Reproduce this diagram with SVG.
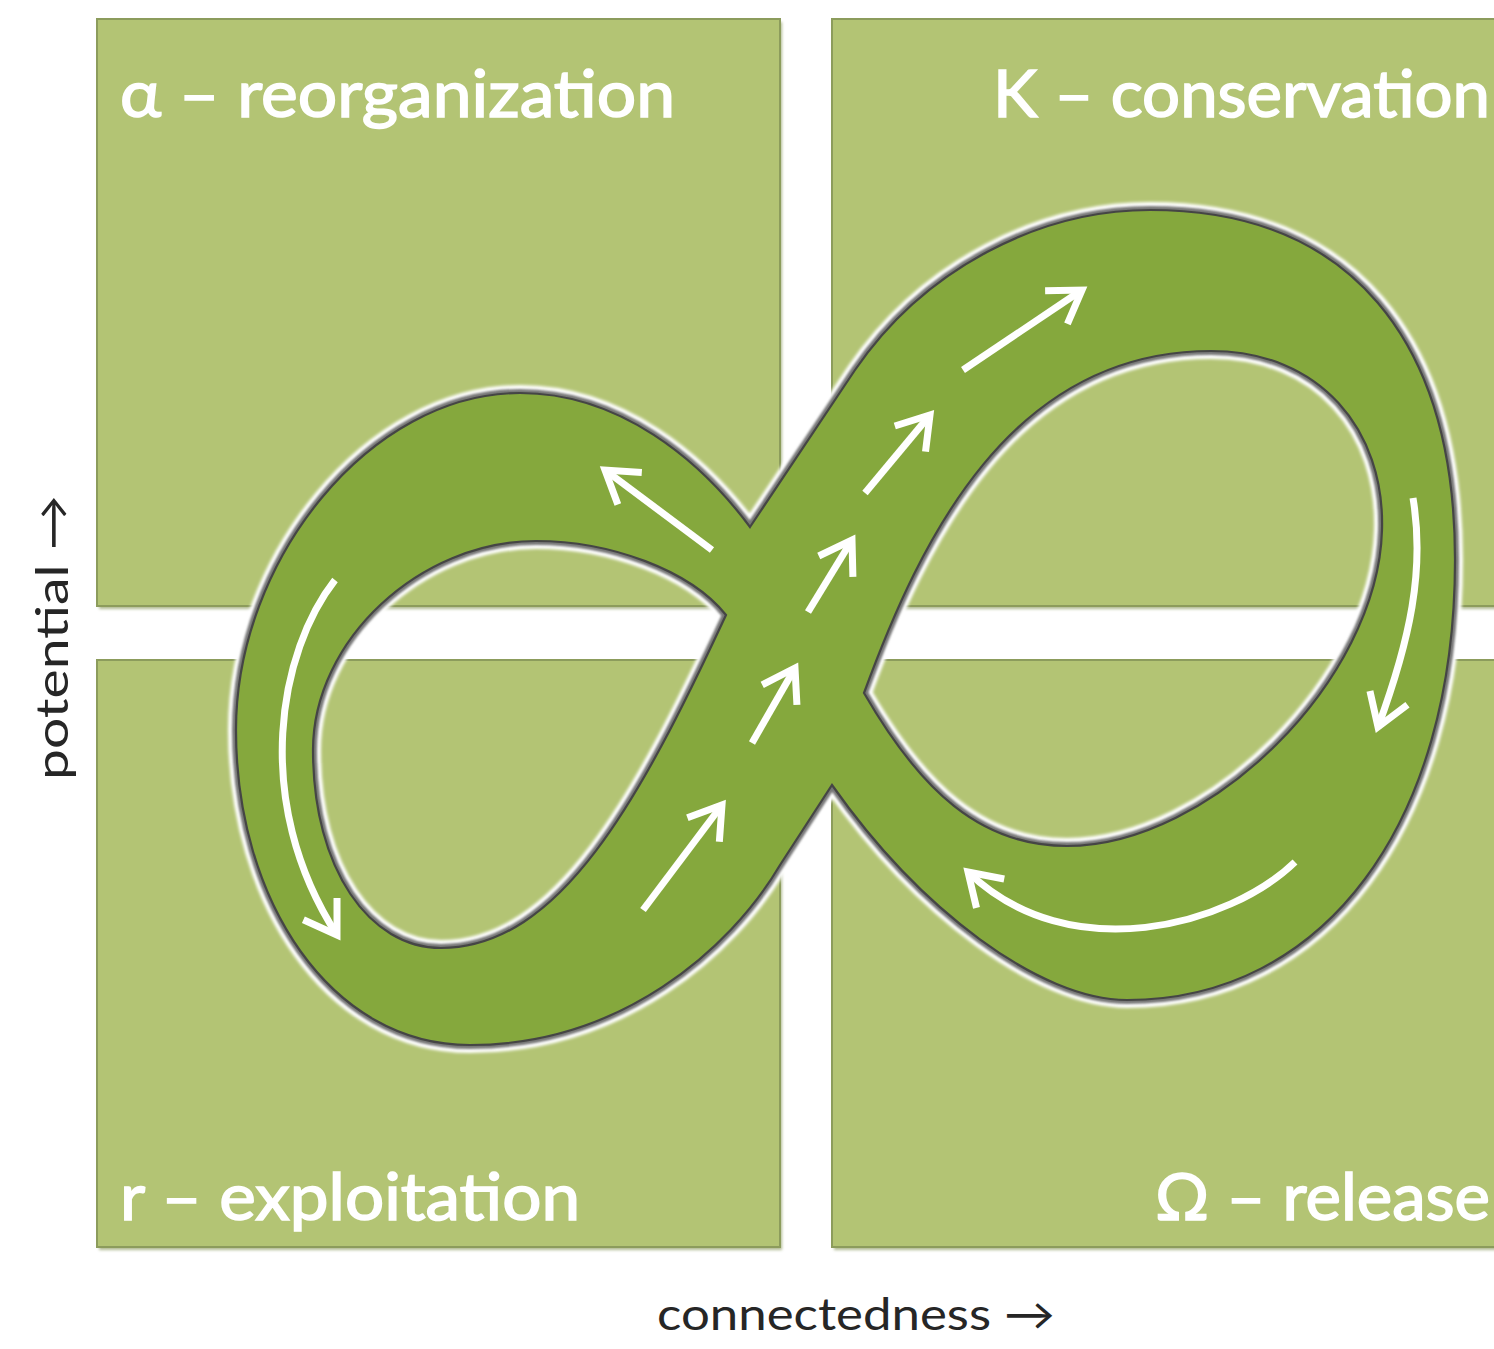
<svg xmlns="http://www.w3.org/2000/svg" width="1494" height="1349" viewBox="0 0 1494 1349">
<style>
.quad{fill:#b3c474;stroke:#8c9c5c;stroke-width:2}
.shadow{fill:#8f9d63;opacity:0.7}
.head{font-family:Lato,"Open Sans","Noto Sans",sans-serif;font-size:66px;fill:#fff;stroke:#fff;stroke-width:1.6}
.axis{font-family:Lato,"Open Sans","Noto Sans",sans-serif;font-size:44px;fill:#262626}
.arr{fill:none;stroke:#fff;stroke-width:7;marker-end:url(#ah)}
</style>
<defs>
<marker id="ah" markerUnits="userSpaceOnUse" orient="auto" refX="0" refY="0" markerWidth="80" markerHeight="80" viewBox="-60 -40 80 80" overflow="visible">
<path d="M-31,-20 L0,0 L-31,20" fill="none" stroke="#fff" stroke-width="7" stroke-linejoin="miter" stroke-miterlimit="10"/>
</marker>
<filter id="soft" x="-5%" y="-5%" width="110%" height="110%"><feGaussianBlur stdDeviation="1.5"/></filter>
<filter id="soft2" x="-5%" y="-5%" width="110%" height="110%"><feGaussianBlur stdDeviation="0.9"/></filter>
<path id="band" fill-rule="evenodd" d="M750,527 L855,370 C925,268 1040,210 1150,210 C1350,210 1455,340 1455,560 C1455,824 1324,1000 1127,1000 C1040,1000 920,910 832,785 L780,865 C730,950 620,1045 470,1045 C330,1045 236,900 236,730 C236,560 370,393 520,393 C620,393 700,460 750,527 Z M726,615 C690,570 610,541 536,541 C420,541 313,640 313,750 C313,870 370,948 441,948 C560,948 640,800 726,615 Z M864,693 C920,540 1010,351 1211,351 C1320,351 1385,430 1382,530 C1378,680 1210,846 1067,846 C980,846 920,790 864,693 Z"/>
</defs>
<rect width="1494" height="1349" fill="#fff"/>
<g id="q-alpha">
<rect class="shadow" x="99" y="22" width="683" height="587" filter="url(#soft)"/>
<rect class="quad" x="97" y="19" width="683" height="587"/>
<text class="head" x="120" y="117" textLength="555" lengthAdjust="spacingAndGlyphs">α – reorganization</text>
</g>
<g id="q-K">
<rect class="shadow" x="834" y="22" width="680" height="587" filter="url(#soft)"/>
<rect class="quad" x="832" y="19" width="680" height="587"/>
<text class="head" x="993" y="117" textLength="497" lengthAdjust="spacingAndGlyphs">K – conservation</text>
</g>
<g id="q-r">
<rect class="shadow" x="99" y="663" width="683" height="587" filter="url(#soft)"/>
<rect class="quad" x="97" y="660" width="683" height="587"/>
<text class="head" x="120" y="1220" textLength="460" lengthAdjust="spacingAndGlyphs">r – exploitation</text>
</g>
<g id="q-omega">
<rect class="shadow" x="834" y="663" width="680" height="587" filter="url(#soft)"/>
<rect class="quad" x="832" y="660" width="680" height="587"/>
<text class="head" x="1155" y="1220" textLength="335" lengthAdjust="spacingAndGlyphs">Ω – release</text>
</g>
<g id="loop">
<use href="#band" fill="none" stroke="#fff" stroke-width="16" filter="url(#soft)"/>
<use href="#band" fill="none" stroke="#777" stroke-width="8" filter="url(#soft2)"/>
<use href="#band" fill="#85a83d" stroke="#454545" stroke-width="2.2"/>
</g>
<g id="connectors">
<path class="arr" d="M643,910 L722,805"/>
<path class="arr" d="M752,743 L795,668"/>
<path class="arr" d="M808,612 L852,540"/>
<path class="arr" d="M865,493 L930,415"/>
<path class="arr" d="M963,370 L1082,290"/>
<path class="arr" d="M712,550 L605,470"/>
<path class="arr" d="M335,580 C280,650 250,800 337,935"/>
<path class="arr" d="M1413,498 C1425,570 1410,640 1378,727"/>
<path class="arr" d="M1295,862 C1230,925 1070,970 968,872"/>
</g>
<g id="axes">
<text class="axis" transform="translate(68,780) rotate(-90)" textLength="285" lengthAdjust="spacingAndGlyphs">potential →</text>
<text class="axis" x="657" y="1330" textLength="398" lengthAdjust="spacingAndGlyphs">connectedness →</text>
</g>
</svg>
